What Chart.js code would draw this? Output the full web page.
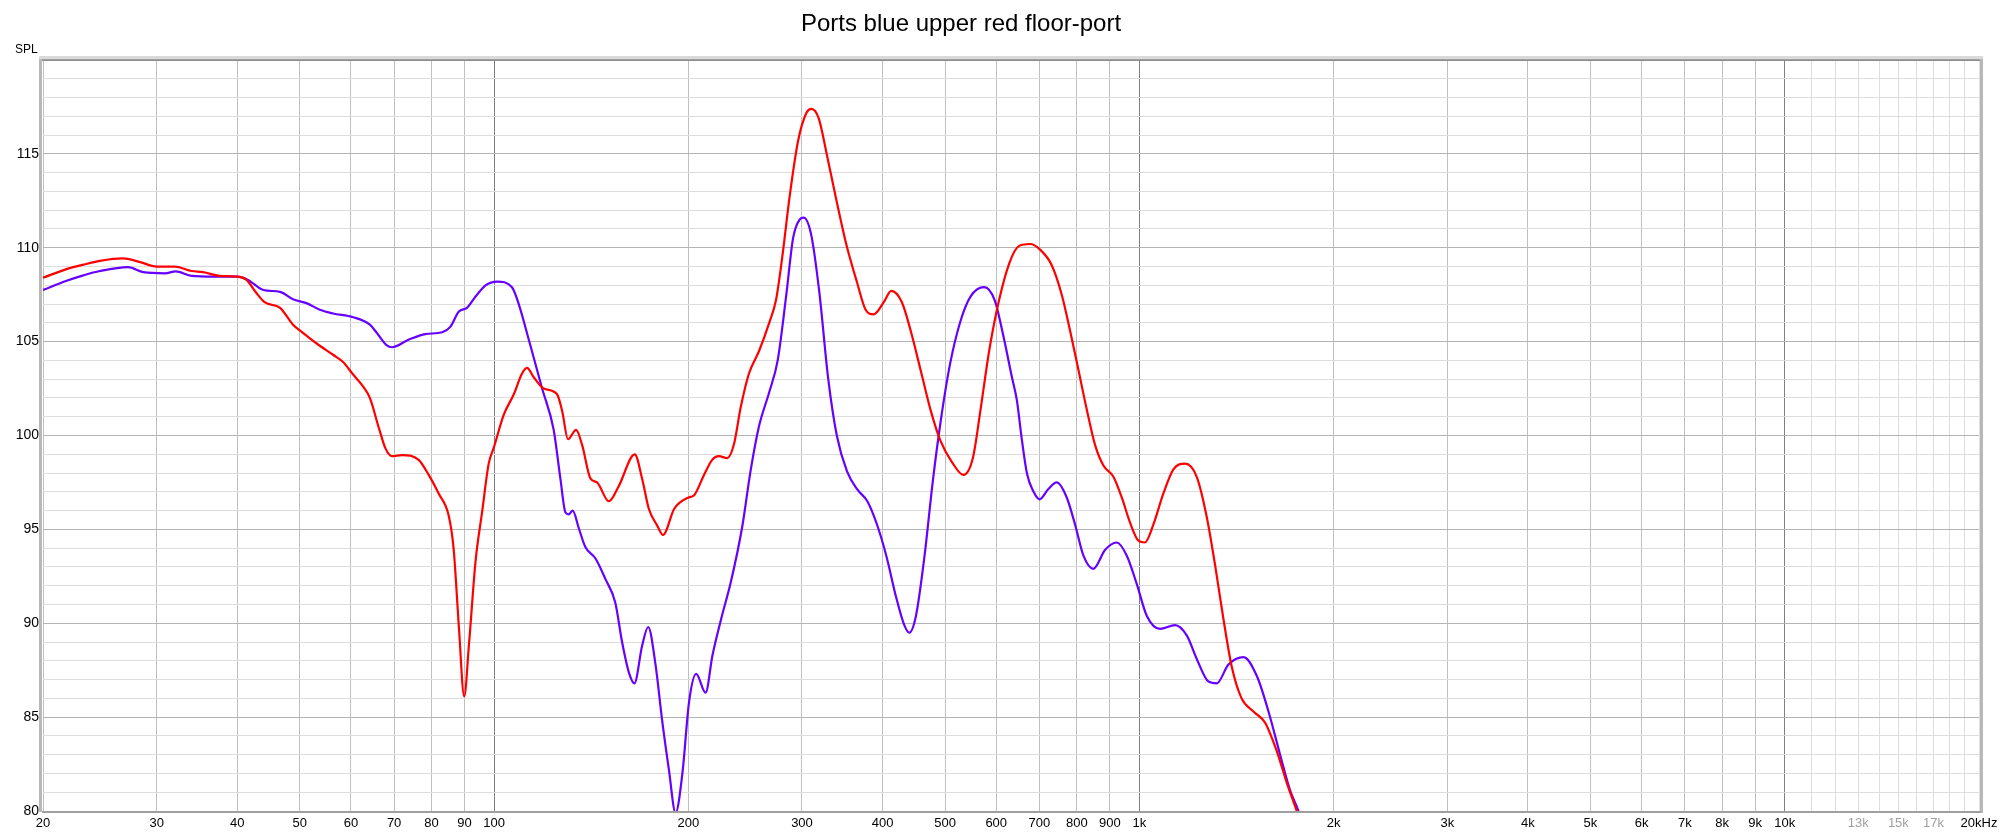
<!DOCTYPE html>
<html>
<head>
<meta charset="utf-8">
<script src="https://cdn.jsdelivr.net/npm/chart.js@4/dist/chart.umd.min.js"></script>
<style>
  html, body { margin: 0; padding: 0; background: #fff; }
  #wrap { width: 2000px; height: 835px; }
</style>
</head>
<body>
<div id="wrap"><canvas id="chartSpl"></canvas></div>
<script>
// Frequency response (Hz / dB SPL)
const chartTitle = 'Ports blue upper red floor-port';

const redFreq = [20, 21.7, 23.1, 24.5, 26.6, 28.2, 30, 32, 34, 35.4, 37.6, 40, 41.3, 42.8, 44.1, 46.6, 48.8, 50, 53.1, 56.3, 58.4, 60.3, 62.7, 64.2, 66.3, 67.9, 69.5, 72, 76.4, 79.2, 82.1, 85.1, 86.6, 88.2, 89.9, 91.4, 93.6, 95.8, 98.1, 100, 103.5, 107.3, 110.5, 112.5, 115.2, 119.4, 125.2, 127.5, 130.2, 134, 136.9, 141.1, 144.4, 150.6, 156, 165.2, 169.6, 173.7, 179, 182.7, 190.2, 200.2, 204, 211.5, 217.8, 223, 229.8, 235.4, 241.1, 248.3, 257.4, 266.9, 273.4, 280.1, 287, 295.9, 305, 310.6, 318.4, 328.1, 338.4, 351.3, 364.8, 376.5, 387.4, 401.7, 412.6, 428.5, 442.8, 459.5, 475.2, 492, 512, 533.6, 552, 568, 585, 606, 629, 651, 677, 701.6, 731.4, 758, 780.6, 804.4, 828.6, 853.6, 879.5, 911.4, 939, 967.2, 996.4, 1020, 1051, 1089, 1129, 1177, 1227, 1271, 1310, 1350, 1390, 1440, 1502, 1566, 1632, 1692, 1753, 1790];
const redSpl = [108.4, 108.85, 109.1, 109.3, 109.43, 109.25, 109.0, 109.0, 108.76, 108.7, 108.5, 108.46, 108.3, 107.6, 107.1, 106.8, 105.9, 105.6, 104.9, 104.3, 103.9, 103.3, 102.6, 102.0, 100.4, 99.3, 98.9, 98.96, 98.7, 97.9, 96.9, 95.7, 93.9, 89.8, 86.1, 88.8, 93.3, 95.9, 98.5, 99.4, 101.1, 102.2, 103.3, 103.6, 103.1, 102.5, 102.2, 101.3, 99.8, 100.3, 99.5, 97.7, 97.5, 96.5, 97.3, 99.0, 97.7, 96.1, 95.2, 94.7, 96.1, 96.7, 96.8, 97.9, 98.7, 98.9, 98.8, 99.55, 101.5, 103.3, 104.5, 106.0, 107.2, 109.7, 112.7, 115.7, 117.2, 117.4, 116.9, 114.9, 112.7, 110.2, 108.2, 106.7, 106.45, 107.1, 107.7, 107.1, 105.5, 103.3, 101.3, 99.7, 98.6, 97.9, 98.8, 101.5, 104.5, 107.2, 109.2, 110.1, 110.2, 109.9, 109.07, 107.5, 105.6, 103.5, 101.4, 99.5, 98.4, 97.8, 96.7, 95.36, 94.4, 94.3, 95.25, 96.9, 98.2, 98.5, 97.8, 95.7, 93.1, 90.2, 87.7, 86.0, 85.3, 84.7, 83.2, 81.5, 80.0, 79.0];

const blueFreq = [20, 21.7, 23.1, 24.5, 27.1, 28.6, 30.9, 32.1, 34, 36.7, 40, 41.5, 43.9, 46.6, 48.8, 51.2, 53.7, 56.3, 60.5, 64.2, 65.7, 68.2, 69.5, 73.7, 78.3, 83.1, 85.6, 88.2, 90.8, 93.6, 97, 101.1, 106.6, 109.2, 113.2, 118.7, 123.7, 126.7, 129, 130.6, 132.4, 135.3, 138.5, 143.6, 148.8, 154.1, 157.9, 161.7, 165, 169.6, 173.3, 177.9, 182.2, 186.6, 191.1, 195.8, 200.5, 205.7, 212.7, 218, 225.5, 232.4, 242.3, 249.7, 257.4, 266.9, 275.1, 283.7, 290.6, 297.5, 301.8, 310, 319, 329.5, 339.7, 352.2, 366, 378.8, 391.7, 405.3, 419.7, 432.2, 440, 450.6, 464.6, 478.6, 492.3, 508.8, 528.2, 547.4, 574.6, 596.8, 615.5, 634.6, 645.7, 657.6, 669.5, 685.6, 700, 722.7, 744.5, 771.6, 795, 819, 848.6, 884.5, 922.2, 956, 990.5, 1026.5, 1076.6, 1135.6, 1184, 1227, 1279, 1318, 1374, 1450, 1520, 1585, 1652, 1712, 1764, 1800];
const blueSpl = [107.75, 108.23, 108.53, 108.76, 108.97, 108.7, 108.64, 108.74, 108.5, 108.46, 108.46, 108.3, 107.75, 107.65, 107.26, 107.05, 106.7, 106.5, 106.3, 105.9, 105.5, 104.8, 104.7, 105.1, 105.4, 105.5, 105.8, 106.6, 106.8, 107.4, 108.0, 108.2, 107.9, 107.0, 105.1, 102.5, 100.3, 97.7, 95.9, 95.8, 96.0, 95.06, 94.06, 93.45, 92.35, 91.1, 89.0, 87.4, 86.8, 88.8, 89.8, 87.8, 84.8, 82.2, 79.9, 82.0, 85.8, 87.3, 86.3, 88.3, 90.4, 92.1, 95.1, 98.1, 100.5, 102.3, 104.0, 107.5, 110.5, 111.5, 111.6, 110.7, 107.7, 103.0, 100.0, 98.1, 97.1, 96.5, 95.3, 93.6, 91.4, 89.9, 89.5, 90.4, 93.6, 97.6, 100.8, 103.8, 106.1, 107.4, 107.9, 107.2, 105.3, 103.1, 101.9, 99.75, 97.98, 97.0, 96.6, 97.15, 97.5, 96.7, 95.25, 93.6, 92.9, 93.9, 94.3, 93.6, 92.1, 90.4, 89.7, 89.9, 89.35, 88.1, 86.9, 86.8, 87.8, 88.2, 87.2, 85.3, 83.0, 81.1, 80.0, 79.0];

// axis ticks
const xGridValues = [20, 30, 40, 50, 60, 70, 80, 90, 100, 200, 300, 400, 500, 600, 700, 800, 900, 1000,
  2000, 3000, 4000, 5000, 6000, 7000, 8000, 9000, 10000, 11000, 12000, 13000, 14000, 15000, 16000, 17000, 18000, 19000, 20000];
const xLabels = {20: '20', 30: '30', 40: '40', 50: '50', 60: '60', 70: '70', 80: '80', 90: '90', 100: '100',
  200: '200', 300: '300', 400: '400', 500: '500', 600: '600', 700: '700', 800: '800', 900: '900', 1000: '1k',
  2000: '2k', 3000: '3k', 4000: '4k', 5000: '5k', 6000: '6k', 7000: '7k', 8000: '8k', 9000: '9k', 10000: '10k',
  13000: '13k', 15000: '15k', 17000: '17k', 20000: '20kHz'};
const yLabels = [80, 85, 90, 95, 100, 105, 110, 115];

function toPoints(fs, vs) {
  return fs.map(function(f, i) { return { x: f, y: vs[i] }; });
}

// frame with the grey bevel, title and "SPL" caption
const framePlugin = {
  id: 'frame',
  afterDraw: function(chart) {
    const ctx = chart.ctx;
    const a = chart.chartArea;
    ctx.save();
    ctx.fillStyle = '#dadada';
    ctx.fillRect(a.left - 4, a.top - 4, a.right - a.left + 8, 3);
    ctx.fillStyle = '#b8b8b8';
    ctx.fillRect(a.left - 4, a.top - 1, 3, a.bottom - a.top + 2);
    ctx.fillRect(a.right + 1, a.top - 1, 3, a.bottom - a.top + 3);
    ctx.strokeStyle = '#808080';
    ctx.lineWidth = 1.5;
    ctx.beginPath();
    ctx.moveTo(a.left - 1, a.top);
    ctx.lineTo(a.right + 1, a.top);
    ctx.stroke();
    ctx.strokeStyle = '#a0a0a0';
    ctx.lineWidth = 2;
    ctx.beginPath();
    ctx.moveTo(a.left - 1, a.bottom + 1);
    ctx.lineTo(a.right + 2, a.bottom + 1);
    ctx.stroke();

    ctx.fillStyle = '#000';
    ctx.textAlign = 'center';
    ctx.textBaseline = 'alphabetic';
    ctx.font = '24px "Liberation Sans", Arial, sans-serif';
    ctx.fillText(chartTitle, 961, 31);

    ctx.font = '12px "Liberation Sans", Arial, sans-serif';
    ctx.textAlign = 'left';
    ctx.textBaseline = 'middle';
    ctx.fillText('SPL', 15, 50);
    ctx.restore();
  }
};

document.addEventListener('DOMContentLoaded', function() {
  new Chart(document.getElementById('chartSpl').getContext('2d'), {
    type: 'scatter',
    data: {
      datasets: [{
        label: 'floor-port',
        data: toPoints(redFreq, redSpl),
        showLine: true,
        borderColor: '#ff0000',
        borderWidth: 2.2,
        pointRadius: 0,
        cubicInterpolationMode: 'monotone'
      }, {
        label: 'upper',
        data: toPoints(blueFreq, blueSpl),
        showLine: true,
        borderColor: '#6600ff',
        borderWidth: 2.2,
        pointRadius: 0,
        cubicInterpolationMode: 'monotone'
      }]
    },
    options: {
      responsive: true,
      maintainAspectRatio: false,
      animation: false,
      devicePixelRatio: 1,
      layout: { padding: { left: 0, right: 21, top: 60, bottom: 0 } },
      plugins: {
        legend: { display: false },
        tooltip: { enabled: false },
        title: { display: false }
      },
      scales: {
        x: {
          type: 'logarithmic',
          min: 20,
          max: 20000,
          afterBuildTicks: function(scale) {
            scale.ticks = xGridValues.map(function(v) { return { value: v }; });
          },
          afterFit: function(scale) {
            scale.height = 24;
            scale.paddingLeft = 0;
            scale.paddingRight = 0;
          },
          border: { display: false },
          grid: {
            drawTicks: false,
            lineWidth: 1,
            color: function(c) {
              const v = c.tick ? c.tick.value : 0;
              if (v === 100 || v === 1000 || v === 10000) return '#7f7f7f';
              if (v > 10000) return '#dedede';
              return '#c0c0c0';
            }
          },
          ticks: {
            autoSkip: false,
            maxRotation: 0,
            minRotation: 0,
            padding: 5,
            font: { family: '"Liberation Sans", Arial, sans-serif', size: 13 },
            color: function(c) {
              const v = c.tick ? c.tick.value : 0;
              return (v > 10000 && v < 20000) ? '#a0a0a0' : '#000';
            },
            callback: function(v) { return xLabels[v] || ''; }
          }
        },
        y: {
          min: 80,
          max: 120,
          afterBuildTicks: function(scale) {
            const t = [];
            for (let v = 80; v <= 120; v++) t.push({ value: v });
            scale.ticks = t;
          },
          afterFit: function(scale) {
            scale.width = 43;
            scale.paddingTop = 0;
            scale.paddingBottom = 0;
          },
          border: { display: false },
          grid: {
            drawTicks: false,
            color: function(c) {
              const v = c.tick ? c.tick.value : 0;
              return v % 5 === 0 ? '#b4b4b4' : '#dddddd';
            }
          },
          ticks: {
            autoSkip: false,
            padding: 4,
            font: { family: '"Liberation Sans", Arial, sans-serif', size: 14 },
            color: '#000',
            callback: function(v) { return yLabels.indexOf(v) >= 0 ? String(v) : ''; }
          }
        }
      }
    },
    plugins: [framePlugin]
  });
});
</script>
</body>
</html>
